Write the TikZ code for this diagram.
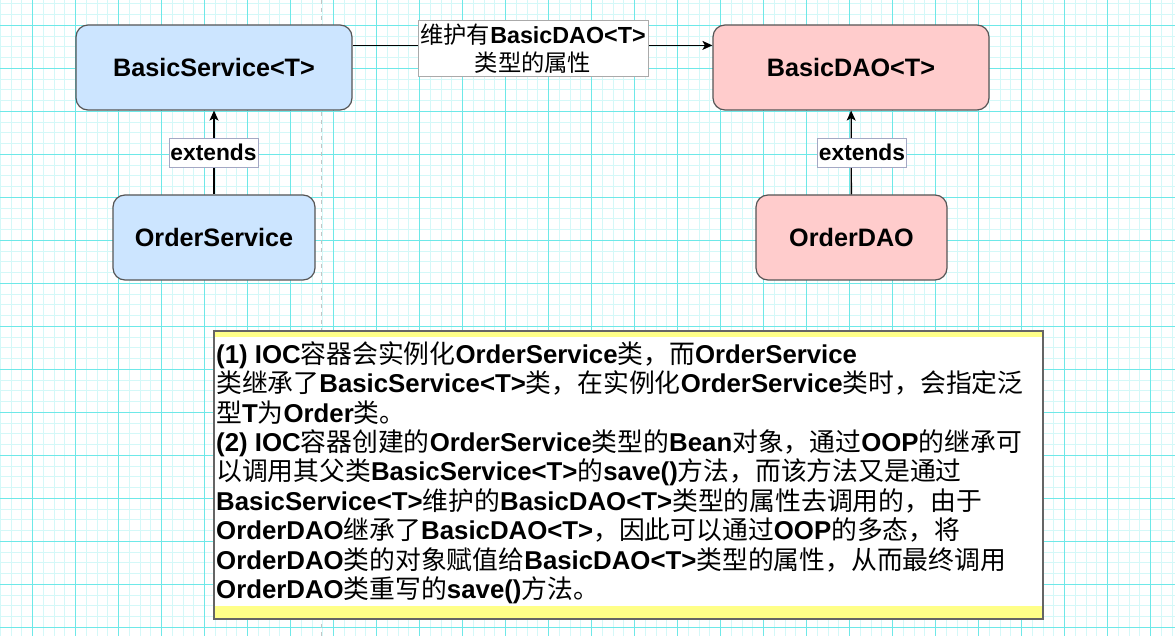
\documentclass[tikz,border=0pt]{standalone}
\usepackage{fontspec}
\setmainfont{Liberation Sans}
\newfontfamily\cjk{Noto Sans CJK SC}
\usetikzlibrary{arrows.meta,calc}
\newcommand\zh[1]{{\cjk\mdseries #1}}
\definecolor{gridmajor}{RGB}{110,232,232}
\definecolor{gridminor}{RGB}{212,248,248}
\definecolor{bluefill}{HTML}{CCE5FF}
\definecolor{pinkfill}{HTML}{FFCCCC}
\definecolor{boxstroke}{HTML}{555555}
\definecolor{notefill}{HTML}{FFFF88}
\definecolor{notestroke}{HTML}{656565}
\definecolor{extstroke}{HTML}{A4A8C4}
\definecolor{lblstroke}{HTML}{AAAAAA}
\definecolor{pagebreak}{HTML}{C4C4C4}
\begin{document}
\begin{tikzpicture}[x=1pt,y=-1pt,
  minorgrid/.style={draw=gridminor,line width=1pt},
  majorgrid/.style={draw=gridmajor,line width=1pt},
  classbox/.style={draw=boxstroke,line width=1.2pt,rounded corners=12pt,inner sep=0pt,
    minimum height=85pt,font=\fontsize{25.2}{30}\selectfont\bfseries},
  bluebox/.style={classbox,fill=bluefill},
  pinkbox/.style={classbox,fill=pinkfill},
  arr/.style={draw=black,line width=1.3pt,-{Stealth[length=10pt,width=9pt,inset=2.5pt]}},
  elabel/.style={draw=extstroke,line width=0.8pt,fill=white,inner sep=0pt,minimum width=89pt,
    minimum height=29pt,font=\fontsize{22.8}{26}\selectfont\bfseries},
  toplabel/.style={draw=lblstroke,line width=0.8pt,fill=white,inner sep=0pt,minimum width=230pt,
    minimum height=56pt,align=center,font=\fontsize{23.3}{28.5}\selectfont\bfseries},
  txtline/.style={anchor=base west,inner sep=0pt,font=\fontsize{25.8}{29.4}\selectfont\bfseries}
]
\useasboundingbox (0,0) rectangle (1175,636);
\clip (0,0) rectangle (1175,636);
\fill[white] (0,0) rectangle (1175,636);
% grid
\foreach \i in {0,...,109}{\pgfmathsetmacro\xx{0.25+10.75*\i}\draw[minorgrid] (\xx,0) -- (\xx,636);}
\foreach \i in {0,...,60}{\pgfmathsetmacro\yy{-6.95+10.75*\i}\draw[minorgrid] (0,\yy) -- (1175,\yy);}
\foreach \i in {0,...,27}{\pgfmathsetmacro\xx{32.5+43*\i}\draw[majorgrid] (\xx,0) -- (\xx,636);}
\foreach \i in {0,...,14}{\pgfmathsetmacro\yy{25.3+43*\i}\draw[majorgrid] (0,\yy) -- (1175,\yy);}
% page break line
\draw[pagebreak,line width=1pt,dash pattern=on 4pt off 4pt] (321,0) -- (321,636);
% class nodes
\node[bluebox,minimum width=276pt] (bs) at (214,67.5) {BasicService<T>};
\node[bluebox,minimum width=202pt] (os) at (214,237.5) {OrderService};
\node[pinkbox,minimum width=276pt] (bd) at (851,67.5) {BasicDAO<T>};
\node[pinkbox,minimum width=191pt] (od) at (851.5,237.5) {OrderDAO};
% connectors
\draw[arr] (os) -- (bs);
\draw[arr] (od) -- (bd);
\draw[arr] ($(bs.north east)+(0,21)$) -- ($(bd.north west)+(0,21)$);
\node[elabel] (ext1) at (213.5,152.5) {extends};
\node[elabel] (ext2) at (862,152.5) {extends};
\node[toplabel] (lbl) at (533,48.7) {\zh{维护有}BasicDAO<T>\\\zh{类型的属性}};
% note
\node[fill=notefill,draw=none,inner sep=0pt,minimum width=829pt,minimum height=288pt] (note) at (628.5,475) {};
\fill[white] ($(note.north west)+(0,6.3)$) rectangle ($(note.south east)+(0,-13.3)$);
\draw[notestroke,line width=2pt] (note.north west) rectangle (note.south east);
\node[txtline] (l1) at (216,363.3) {(1) IOC\zh{容器会实例化}OrderService\zh{类，而}OrderService};
\node[txtline] (l2) at (216,392.7) {\zh{类继承了}BasicService<T>\zh{类，在实例化}OrderService\zh{类时，会指定泛}};
\node[txtline] (l3) at (216,422.1) {\zh{型}T\zh{为}Order\zh{类。}};
\node[txtline] (l4) at (216,451.5) {(2) IOC\zh{容器创建的}OrderService\zh{类型的}Bean\zh{对象，通过}OOP\zh{的继承可}};
\node[txtline] (l5) at (216,480.9) {\zh{以调用其父类}BasicService<T>\zh{的}save()\zh{方法，而该方法又是通过}};
\node[txtline] (l6) at (216,510.3) {BasicService<T>\zh{维护的}BasicDAO<T>\zh{类型的属性去调用的，由于}};
\node[txtline] (l7) at (216,539.7) {OrderDAO\zh{继承了}BasicDAO<T>\zh{，因此可以通过}OOP\zh{的多态，将}};
\node[txtline] (l8) at (216,569.1) {OrderDAO\zh{类的对象赋值给}BasicDAO<T>\zh{类型的属性，从而最终调用}};
\node[txtline] (l9) at (216,598.5) {OrderDAO\zh{类重写的}save()\zh{方法。}};
\end{tikzpicture}
\end{document}
